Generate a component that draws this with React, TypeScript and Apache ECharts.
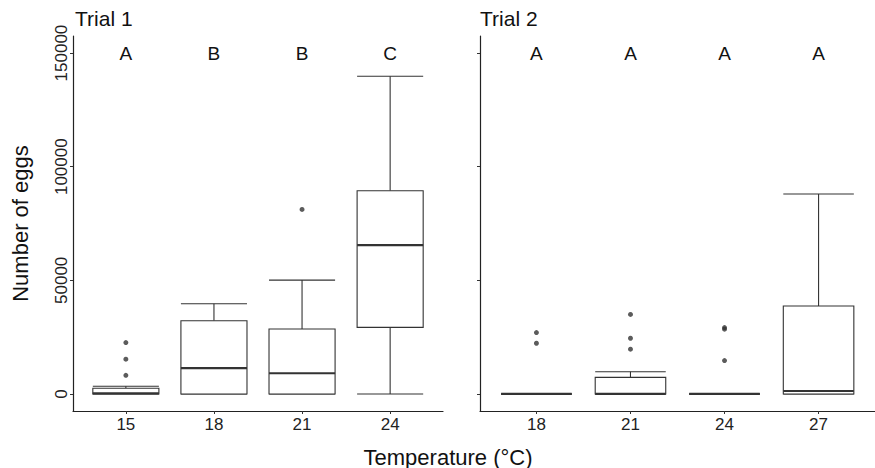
import React, { useEffect, useRef } from 'react';
import * as echarts from 'echarts';

// ---- Data ----
const trial1Temps = ['15', '18', '21', '24'];
const trial1Min = [0, 0, 0, 0];
const trial1Q1 = [0, 0, 0, 29300];
const trial1Median = [300, 11400, 9100, 65500];
const trial1Q3 = [2500, 32200, 28600, 89400];
const trial1Max = [3400, 39700, 50100, 139800];
const trial1Outliers = [[22600, 15300, 8200], [], [81200], []];
const trial1Letters = ['A', 'B', 'B', 'C'];

const trial2Temps = ['18', '21', '24', '27'];
const trial2Min = [0, 0, 0, 0];
const trial2Q1 = [0, 0, 0, 0];
const trial2Median = [0, 0, 0, 1300];
const trial2Q3 = [0, 7300, 0, 38700];
const trial2Max = [0, 9800, 0, 88000];
const trial2Outliers = [[27000, 22300], [35000, 24500, 19700], [29200, 28500, 14700], []];
const trial2Letters = ['A', 'A', 'A', 'A'];

const yTicks = [0, 50000, 100000, 150000];
const letterValue = 150000;
const panelTitles = ['Trial 1', 'Trial 2'];
const xTitle = 'Temperature (°C)';
const yTitle = 'Number of eggs';

const FONT = '"Liberation Sans", Arial, Helvetica, sans-serif';
const LINE = '#333333';

function boxData(mins: number[], q1s: number[], meds: number[], q3s: number[], maxs: number[]) {
  return mins.map((m, i) => [i + 1, m, q1s[i], meds[i], q3s[i], maxs[i]]);
}
function outlierData(outs: number[][]) {
  const r: number[][] = [];
  outs.forEach((arr, i) => arr.forEach((v) => r.push([i + 1, v])));
  return r;
}

const renderBox = (_params: any, api: any) => {
  const x = api.value(0);
  const mn = api.value(1);
  const q1 = api.value(2);
  const md = api.value(3);
  const q3 = api.value(4);
  const mx = api.value(5);
  const half = api.size([0.75, 0])[0] / 2;
  const pMin = api.coord([x, mn]);
  const pQ1 = api.coord([x, q1]);
  const pMd = api.coord([x, md]);
  const pQ3 = api.coord([x, q3]);
  const pMax = api.coord([x, mx]);
  const cx = pMin[0];
  const style = { stroke: LINE, lineWidth: 1.1, fill: null };
  return {
    type: 'group',
    children: [
      { type: 'line', shape: { x1: cx, y1: pQ3[1], x2: cx, y2: pMax[1] }, style },
      { type: 'line', shape: { x1: cx, y1: pQ1[1], x2: cx, y2: pMin[1] }, style },
      { type: 'line', shape: { x1: cx - half, y1: pMax[1], x2: cx + half, y2: pMax[1] }, style },
      { type: 'line', shape: { x1: cx - half, y1: pMin[1], x2: cx + half, y2: pMin[1] }, style },
      {
        type: 'rect',
        shape: { x: cx - half, y: pQ3[1], width: 2 * half, height: pQ1[1] - pQ3[1] },
        style: { stroke: LINE, lineWidth: 1.1, fill: '#ffffff' },
      },
      {
        type: 'line',
        shape: { x1: cx - half, y1: pMd[1], x2: cx + half, y2: pMd[1] },
        style: { stroke: LINE, lineWidth: 2.2 },
      },
    ],
  };
};

const makeLetterRender = (letters: string[]) => (params: any, api: any) => {
  const p = api.coord([api.value(0), api.value(1)]);
  return {
    type: 'text',
    x: p[0],
    y: p[1],
    style: {
      text: letters[params.dataIndex],
      align: 'center',
      verticalAlign: 'middle',
      fontSize: 19,
      fontFamily: FONT,
      fill: '#111',
    },
  };
};

function xAxisFor(gridIndex: number, temps: string[]) {
  return {
    type: 'value',
    gridIndex,
    min: 0.4,
    max: 4.6,
    splitLine: { show: false },
    axisLine: { show: true, onZero: false, lineStyle: { color: '#222', width: 1.2 } },
    axisTick: { show: true, customValues: [1, 2, 3, 4], length: 3, lineStyle: { color: '#333', width: 1 } },
    axisLabel: {
      show: true,
      customValues: [1, 2, 3, 4],
      formatter: (v: number) => temps[Math.round(v) - 1] ?? '',
      margin: 5,
      fontSize: 17,
      fontFamily: FONT,
      color: '#222',
    },
  };
}

function yAxisFor(gridIndex: number, showLabels: boolean) {
  return {
    type: 'value',
    gridIndex,
    min: -7500,
    max: 157500,
    splitLine: { show: false },
    axisLine: { show: true, onZero: false, lineStyle: { color: '#222', width: 1.2 } },
    axisTick: { show: true, customValues: yTicks, length: 3, lineStyle: { color: '#333', width: 1 } },
    axisLabel: {
      show: showLabels,
      customValues: yTicks,
      formatter: (v: number) => String(v),
      rotate: 90,
      margin: 3,
      fontSize: 17,
      fontFamily: FONT,
      color: '#222',
    },
    name: showLabels ? yTitle : '',
    nameLocation: 'middle',
    nameGap: 42,
    nameTextStyle: { fontSize: 22, fontFamily: FONT, color: '#111' },
  };
}

export default function App() {
  const ref = useRef<HTMLDivElement>(null);
  useEffect(() => {
    if (!ref.current) return;
    const chart = echarts.init(ref.current, undefined, { renderer: 'svg' });
    const t1Letters = trial1Letters.map((_, i) => [i + 1, letterValue]);
    const t2Letters = trial2Letters.map((_, i) => [i + 1, letterValue]);
    const titleStyle = { fontSize: 21, fontWeight: 'normal', fontFamily: FONT, color: '#111' };
    chart.setOption({
      animation: false,
      backgroundColor: '#ffffff',
      title: [
        { text: panelTitles[0], left: 75, top: 8, padding: 0, textStyle: titleStyle },
        { text: panelTitles[1], left: 480, top: 8, padding: 0, textStyle: titleStyle },
      ],
      grid: [
        { left: 73, top: 36, width: 370, height: 375 },
        { left: 480, top: 36, width: 406, height: 375 },
      ],
      xAxis: [xAxisFor(0, trial1Temps), xAxisFor(1, trial2Temps)],
      yAxis: [yAxisFor(0, true), yAxisFor(1, false)],
      graphic: [
        {
          type: 'text',
          x: 448,
          y: 457,
          style: { text: xTitle, align: 'center', verticalAlign: 'middle', fontSize: 22, fontFamily: FONT, fill: '#111' },
        },
      ],
      series: [
        {
          type: 'custom',
          xAxisIndex: 0,
          yAxisIndex: 0,
          renderItem: renderBox,
          encode: { x: 0, y: [1, 2, 3, 4, 5] },
          data: boxData(trial1Min, trial1Q1, trial1Median, trial1Q3, trial1Max),
        },
        {
          type: 'custom',
          xAxisIndex: 1,
          yAxisIndex: 1,
          renderItem: renderBox,
          encode: { x: 0, y: [1, 2, 3, 4, 5] },
          data: boxData(trial2Min, trial2Q1, trial2Median, trial2Q3, trial2Max),
        },
        {
          type: 'scatter',
          xAxisIndex: 0,
          yAxisIndex: 0,
          symbolSize: 5,
          itemStyle: { color: LINE },
          data: outlierData(trial1Outliers),
        },
        {
          type: 'scatter',
          xAxisIndex: 1,
          yAxisIndex: 1,
          symbolSize: 5,
          itemStyle: { color: LINE },
          data: outlierData(trial2Outliers),
        },
        {
          type: 'custom',
          xAxisIndex: 0,
          yAxisIndex: 0,
          renderItem: makeLetterRender(trial1Letters),
          encode: { x: 0, y: 1 },
          data: t1Letters,
        },
        {
          type: 'custom',
          xAxisIndex: 1,
          yAxisIndex: 1,
          renderItem: makeLetterRender(trial2Letters),
          encode: { x: 0, y: 1 },
          data: t2Letters,
        },
      ],
    });
    return () => chart.dispose();
  }, []);
  return (
    <div
      ref={ref}
      style={{ position: 'fixed', left: 0, top: 0, width: 875, height: 468, background: '#fff' }}
    />
  );
}
